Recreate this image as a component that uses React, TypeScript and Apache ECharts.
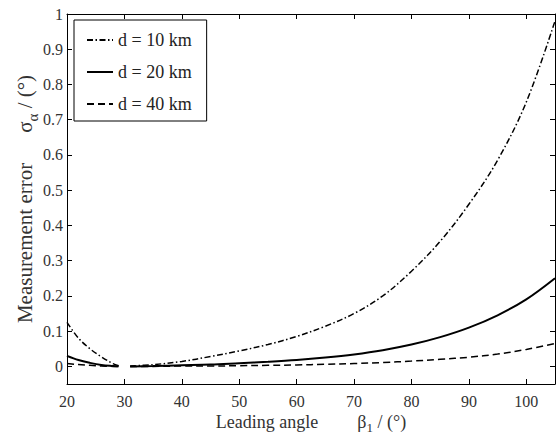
import React, { useEffect, useRef } from "react";
import * as echarts from "echarts";

const angles = [20, 22, 24, 26, 28, 29, 30, 31, 35, 40, 45, 50, 55, 60, 65, 70, 75, 80, 85, 90, 95, 100, 105];
const d10 = [0.125, 0.08, 0.05, 0.027, 0.008, 0.002, null, 0.001, 0.005, 0.014, 0.028, 0.044, 0.062, 0.085, 0.114, 0.15, 0.2, 0.27, 0.355, 0.46, 0.585, 0.75, 0.98];
const d20 = [0.03, 0.018, 0.01, 0.004, 0.001, 0, null, 0, 0.001, 0.003, 0.005, 0.009, 0.013, 0.018, 0.025, 0.034, 0.046, 0.062, 0.083, 0.11, 0.145, 0.19, 0.25];
const d40 = [0.008, 0.005, 0.003, 0.001, 0, 0, null, 0, 0, 0.001, 0.001, 0.002, 0.003, 0.004, 0.006, 0.008, 0.011, 0.015, 0.02, 0.026, 0.035, 0.048, 0.065];
const seriesNames = ["d = 10 km", "d = 20 km", "d = 40 km"];
const xTicks = [20, 30, 40, 50, 60, 70, 80, 90, 100];
const yTicks = [0, 0.1, 0.2, 0.3, 0.4, 0.5, 0.6, 0.7, 0.8, 0.9, 1];

const FONT = "'Liberation Serif', 'Times New Roman', serif";

export default function App() {
  const ref = useRef<HTMLDivElement>(null);
  useEffect(() => {
    const chart = echarts.init(ref.current!, null, { renderer: "svg" });
    const mk = (name: string, vals: (number | null)[], dash: any, width: number) => ({
      name,
      type: "line",
      data: angles.map((a, i) => [a, vals[i]]),
      symbol: "none",
      smooth: 0.35,
      connectNulls: false,
      lineStyle: { color: "#000", width, type: dash },
      itemStyle: { color: "#000" },
      z: 3,
    });
    const axisLine = { show: true, onZero: false, lineStyle: { color: "#000", width: 1 } };
    const tick = (vals: number[]) => ({
      show: true,
      inside: true,
      length: 5,
      customValues: vals,
      lineStyle: { color: "#000", width: 1 },
    });
    const richX = {
      sub: { fontSize: 13, fontFamily: FONT, color: "#333", verticalAlign: "bottom", lineHeight: 13 },
      gap: { width: 39 },
    };
    const richY = {
      sub: { fontSize: 15, fontFamily: FONT, color: "#333", verticalAlign: "bottom", lineHeight: 15 },
      gapy: { width: 30 },
    };
    chart.setOption({
      animation: false,
      backgroundColor: "#fff",
      grid: { left: 67, right: 3, top: 14, bottom: 54, containLabel: false, outerBoundsMode: "none" },
      legend: {
        show: true,
        orient: "vertical",
        left: 74,
        top: 20,
        data: seriesNames,
        itemWidth: 26,
        itemHeight: 14,
        itemGap: 14,
        padding: [11, 15, 8, 12],
        borderColor: "#000",
        borderWidth: 1,
        backgroundColor: "#fff",
        itemStyle: { color: "transparent", borderColor: "transparent", borderWidth: 0, opacity: 0 },
        textStyle: { fontFamily: FONT, fontSize: 18, color: "#222" },
      },
      xAxis: [
        {
          type: "value",
          min: 20,
          max: 105,
          axisLine,
          axisTick: tick(xTicks),
          splitLine: { show: false },
          axisLabel: {
            customValues: xTicks,
            fontFamily: FONT,
            fontSize: 16,
            color: "#333",
            margin: 9,
          },
          name: "Leading angle{gap| }β{sub|1} / (°)",
          nameLocation: "middle",
          nameGap: 26,
          nameMoveOverlap: false,
          nameTextStyle: { fontFamily: FONT, fontSize: 18, color: "#333", lineHeight: 24, rich: richX },
        },
        {
          type: "value",
          position: "top",
          min: 20,
          max: 105,
          axisLine,
          axisTick: tick(xTicks),
          splitLine: { show: false },
          axisLabel: { show: false },
        },
      ],
      yAxis: [
        {
          type: "value",
          min: -0.05,
          max: 1,
          axisLine,
          axisTick: tick(yTicks),
          splitLine: { show: false },
          axisLabel: {
            customValues: yTicks,
            fontFamily: FONT,
            fontSize: 16,
            color: "#333",
            margin: 4,
          },
          name: "Measurement error{gapy| }σ{sub|α} / (°)",
          nameLocation: "middle",
          nameRotate: 90,
          nameGap: 27,
          nameMoveOverlap: false,
          nameTextStyle: { fontFamily: FONT, fontSize: 21, color: "#333", lineHeight: 30, rich: richY },
        },
        {
          type: "value",
          position: "right",
          min: -0.05,
          max: 1,
          axisLine,
          axisTick: tick(yTicks),
          splitLine: { show: false },
          axisLabel: { show: false },
        },
      ],
      series: [
        mk(seriesNames[0], d10, [6, 2.5, 1.5, 2.5], 1.5),
        mk(seriesNames[1], d20, "solid", 2),
        mk(seriesNames[2], d40, [7, 4], 1.5),
      ],
    });
    return () => chart.dispose();
  }, []);
  return <div ref={ref} style={{ position: "absolute", left: 0, top: 0, width: 558, height: 438 }} />;
}
